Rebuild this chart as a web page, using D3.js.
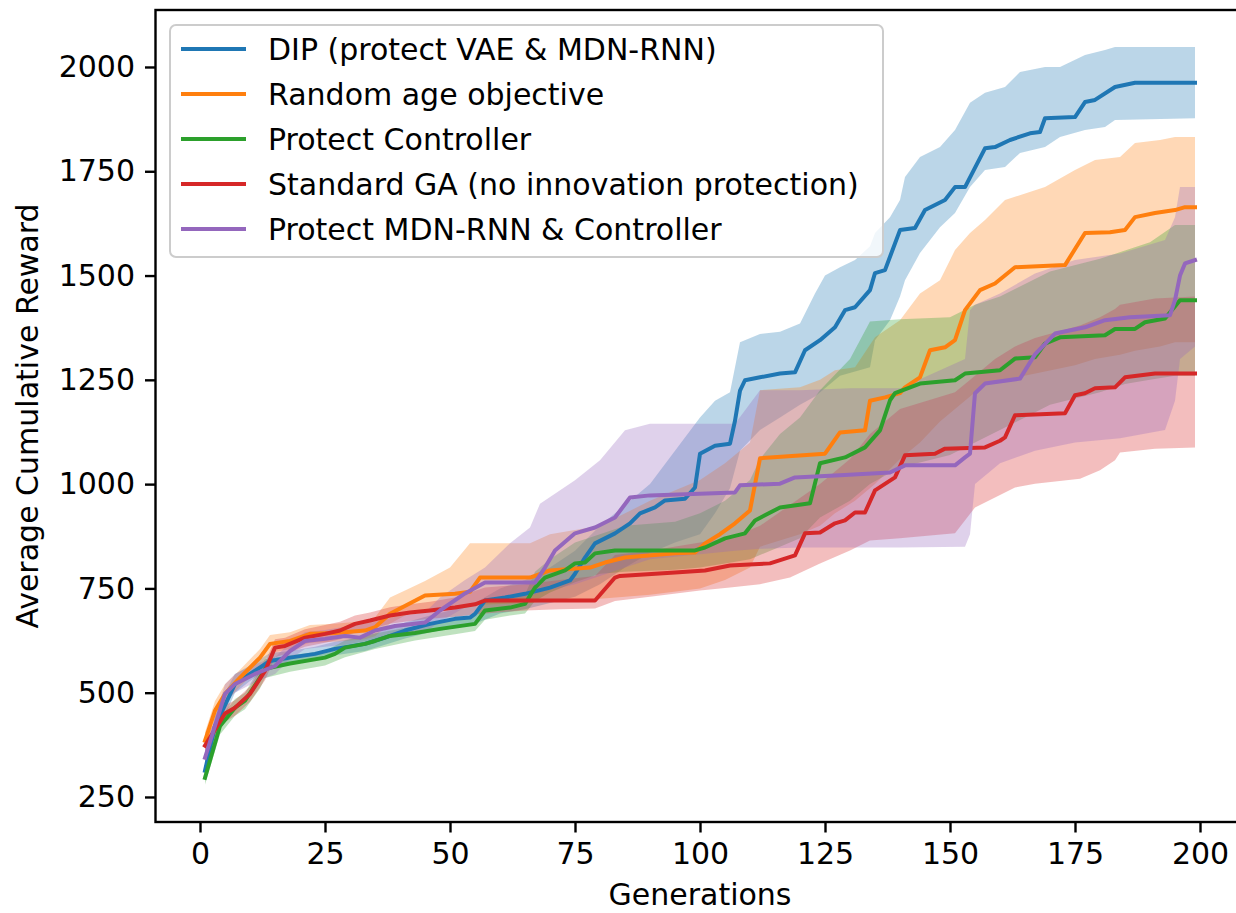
<!DOCTYPE html>
<html><head><meta charset="utf-8">
<script src="https://cdn.jsdelivr.net/npm/d3@7"></script>
<style>
body{margin:0;background:#fff}
svg{display:block}
text{font-family:"DejaVu Sans",sans-serif;fill:#000}
</style>
</head><body>
<svg id="chart" width="1236" height="913"></svg>
<script>
// ---- data ----
const xTicks = [0, 25, 50, 75, 100, 125, 150, 175, 200];
const yTicks = [250, 500, 750, 1000, 1250, 1500, 1750, 2000];
const seriesNames = ["DIP (protect VAE & MDN-RNN)", "Random age objective", "Protect Controller",
  "Standard GA (no innovation protection)", "Protect MDN-RNN & Controller"];
const seriesColors = ["#1f77b4", "#ff7f0e", "#2ca02c", "#d62728", "#9467bd"];

// mean curves: [generation, reward]
const dipMean = [[1,313],[3,420],[5,470],[7,521],[10,545],[14,576],[18,584],[23,593],[27,605],[33,617],[37,632],[41,649],[46,665],[51,677],[54,680],[55,689],[57,721],[61,728],[65,737],[70,752],[74,769],[75,785],[77,824],[79,858],[83,882],[86,906],[88,930],[91,944],[93,961],[97,965],[99,992],[100,1073],[103,1092],[106,1097],[107,1152],[108,1224],[109,1249],[112,1256],[116,1265],[119,1268],[121,1321],[124,1345],[127,1376],[129,1417],[131,1424],[134,1465],[135,1506],[137,1513],[140,1609],[143,1614],[145,1657],[149,1681],[151,1712],[153,1712],[157,1805],[159,1808],[162,1825],[166,1841],[168,1844],[169,1877],[175,1880],[177,1916],[179,1921],[183,1952],[187,1962],[199,1962]];
const randomMean = [[1,385],[3,457],[5,497],[8,536],[12,584],[14,617],[18,624],[22,641],[27,643],[33,649],[35,657],[38,689],[45,733],[51,737],[54,742],[56,776],[66,776],[70,793],[78,800],[81,812],[85,824],[95,834],[99,836],[101,858],[104,880],[107,906],[110,937],[112,1062],[114,1064],[125,1073],[128,1124],[133,1129],[134,1200],[137,1208],[140,1218],[141,1232],[144,1256],[146,1321],[149,1328],[151,1345],[153,1417],[156,1465],[159,1481],[163,1520],[173,1525],[177,1602],[182,1604],[185,1609],[187,1640],[191,1650],[195,1657],[197,1664],[199,1664]];
const ctrlMean = [[1,296],[4,420],[7,464],[9,481],[12,536],[13,557],[18,570],[25,584],[27,593],[29,608],[33,617],[35,624],[38,636],[43,643],[48,653],[55,665],[57,697],[62,704],[65,713],[67,752],[69,776],[73,793],[75,810],[77,812],[79,834],[83,841],[99,841],[101,848],[105,870],[109,882],[111,913],[116,944],[122,954],[124,1050],[129,1064],[133,1088],[136,1129],[138,1201],[139,1218],[144,1241],[151,1249],[153,1265],[160,1273],[163,1301],[167,1304],[169,1337],[172,1352],[181,1357],[183,1372],[187,1372],[189,1388],[193,1397],[196,1441],[199,1441]];
const gaMean = [[1,373],[5,450],[7,464],[10,497],[13,552],[15,608],[17,612],[21,632],[25,641],[28,649],[31,665],[34,673],[38,685],[42,692],[46,697],[51,704],[55,712],[57,721],[79,721],[83,776],[84,780],[95,788],[101,793],[106,805],[114,810],[119,829],[121,882],[124,884],[127,906],[129,913],[131,932],[133,932],[135,985],[139,1016],[141,1069],[147,1073],[149,1085],[157,1088],[160,1104],[161,1112],[163,1165],[173,1170],[175,1213],[177,1218],[179,1230],[183,1232],[185,1256],[191,1265],[199,1265]];
const mdnMean = [[1,344],[5,497],[7,521],[11,545],[15,564],[18,600],[21,624],[25,629],[29,636],[32,632],[35,649],[39,660],[45,668],[48,697],[53,738],[57,764],[67,764],[69,800],[71,841],[75,882],[79,896],[83,920],[86,968],[90,973],[107,980],[108,997],[116,1001],[119,1016],[128,1021],[138,1028],[141,1045],[151,1045],[153,1064],[154,1073],[155,1218],[157,1241],[164,1253],[167,1311],[171,1361],[177,1376],[181,1393],[186,1400],[194,1405],[195,1441],[196,1500],[197,1529],[199,1537]];

// spread bands: [generation, lower, upper]
const dipBand = [[1,295,335],[3,395,445],[5,445,500],[7,500,545],[10,528,565],[14,560,595],[18,570,600],[23,578,610],[27,590,622],[33,600,635],[37,615,650],[41,630,668],[46,645,685],[51,655,700],[55,665,715],[60,690,750],[65,700,770],[70,715,800],[75,730,840],[80,760,900],[85,800,950],[90,835,1000],[95,860,1080],[100,880,1160],[103,930,1200],[106,990,1220],[108,1080,1340],[112,1130,1360],[116,1160,1365],[120,1190,1385],[123,1210,1457],[125,1230,1500],[128,1260,1520],[131,1270,1537],[134,1280,1570],[135,1345,1602],[138,1393,1640],[140,1450,1681],[141,1489,1736],[144,1554,1784],[148,1616,1808],[151,1650,1849],[154,1712,1914],[157,1753,1938],[161,1760,1952],[164,1794,1988],[169,1808,2000],[172,1832,2000],[177,1849,2029],[181,1856,2041],[183,1873,2048],[199,1877,2048]];
const randomBand = [[1,365,405],[3,435,480],[5,475,520],[8,515,555],[12,560,605],[14,595,638],[18,605,645],[22,620,662],[27,622,665],[33,628,672],[35,635,680],[38,665,728],[41,685,745],[45,700,768],[50,705,800],[54,710,858],[66,715,858],[70,720,880],[80,725,900],[90,735,960],[100,750,1010],[105,770,1050],[110,800,1100],[112,850,1225],[120,880,1232],[124,900,1250],[127,930,1273],[131,960,1280],[135,1000,1352],[140,1060,1393],[144,1100,1457],[148,1150,1489],[151,1180,1561],[154,1210,1602],[157,1240,1633],[161,1250,1681],[169,1270,1712],[175,1285,1753],[179,1300,1777],[184,1310,1784],[187,1320,1818],[192,1330,1825],[195,1340,1832],[199,1340,1832]];
const ctrlBand = [[1,280,315],[4,400,440],[7,445,485],[9,460,500],[12,510,560],[13,535,580],[18,550,590],[25,565,600],[29,585,625],[35,605,642],[43,625,660],[51,640,678],[55,648,685],[57,675,720],[62,685,725],[65,690,735],[67,720,790],[70,740,820],[75,765,860],[80,785,880],[85,790,900],[95,795,910],[100,800,930],[105,810,960],[110,820,1010],[112,830,1060],[116,850,1120],[120,870,1160],[124,920,1225],[130,960,1300],[134,1000,1390],[140,1040,1395],[150,1070,1400],[155,1100,1430],[160,1130,1450],[165,1160,1480],[170,1190,1510],[180,1220,1540],[185,1240,1560],[190,1250,1580],[195,1260,1621],[199,1260,1621]];
const gaBand = [[1,355,390],[5,430,470],[7,445,482],[10,478,515],[13,530,572],[15,585,628],[17,592,632],[21,610,652],[25,620,662],[28,628,670],[31,645,685],[34,652,692],[38,665,705],[42,672,712],[46,677,718],[51,682,728],[57,690,752],[65,697,760],[72,700,770],[79,702,780],[83,720,830],[90,730,840],[100,745,860],[106,752,870],[112,760,900],[118,776,950],[124,810,1000],[130,841,1060],[134,865,1120],[140,870,1180],[151,882,1220],[155,944,1260],[159,968,1300],[163,992,1330],[167,1001,1350],[176,1013,1380],[180,1033,1400],[183,1057,1420],[184,1076,1430],[191,1085,1445],[199,1088,1450]];
const mdnBand = [[1,325,365],[5,475,520],[7,500,545],[11,525,568],[15,545,585],[18,580,620],[21,605,645],[25,610,650],[29,615,658],[35,628,670],[39,638,682],[45,645,692],[48,670,728],[53,705,770],[57,720,800],[62,725,858],[66,730,896],[68,740,953],[75,760,1009],[80,780,1057],[85,800,1129],[90,820,1145],[107,840,1145],[112,845,1225],[120,848,1225],[130,848,1230],[140,848,1230],[153,850,1300],[154,880,1417],[155,1000,1430],[160,1050,1457],[167,1080,1505],[175,1100,1537],[184,1110,1553],[193,1130,1585],[195,1200,1640],[196,1300,1712],[199,1330,1712]];

const means = [dipMean, randomMean, ctrlMean, gaMean, mdnMean];
const bands = [dipBand, randomBand, ctrlBand, gaBand, mdnBand];

// ---- layout ----
const svg = d3.select("#chart");
const L = 155.5, R = 1244.5, T = 10, B = 822;
const x = d3.scaleLinear().domain([-8.9, 208.9]).range([L, R]);
const y = d3.scaleLinear().domain([190, 2136.6]).range([B, T]);

svg.append("defs").append("clipPath").attr("id","clip")
  .append("rect").attr("x",L).attr("y",T).attr("width",R-L).attr("height",B-T);

const plot = svg.append("g").attr("clip-path","url(#clip)");
const area = d3.area().x(d=>x(d[0])).y0(d=>y(d[1])).y1(d=>y(d[2]));
const line = d3.line().x(d=>x(d[0])).y(d=>y(d[1]));

bands.forEach((b,i)=>{
  plot.append("path").attr("d", area(b)).attr("fill", seriesColors[i]).attr("fill-opacity",0.3).attr("stroke","none");
});
means.forEach((m,i)=>{
  plot.append("path").attr("d", line(m)).attr("fill","none").attr("stroke", seriesColors[i])
    .attr("stroke-width",4).attr("stroke-linejoin","round").attr("stroke-linecap","square");
});

// axes
const fs = 30;
const xAxis = svg.append("g").attr("transform",`translate(0,${B})`)
  .call(d3.axisBottom(x).tickValues(xTicks).tickFormat(d3.format("d")).tickSize(10.5).tickPadding(10));
const yAxis = svg.append("g").attr("transform",`translate(${L},0)`)
  .call(d3.axisLeft(y).tickValues(yTicks).tickFormat(d3.format("d")).tickSize(10.5).tickPadding(10));
[xAxis,yAxis].forEach(a=>{
  a.select(".domain").remove();
  a.selectAll(".tick line").attr("stroke","#000").attr("stroke-width",2.4);
  a.selectAll(".tick text").attr("font-size",fs).attr("font-family","DejaVu Sans").attr("fill","#000");
});

// spines
svg.append("rect").attr("x",L).attr("y",T).attr("width",R-L).attr("height",B-T)
  .attr("fill","none").attr("stroke","#000").attr("stroke-width",2.4);

// labels
svg.append("text").attr("x",(L+R)/2).attr("y",905).attr("text-anchor","middle").attr("font-size",fs).text("Generations");
svg.append("text").attr("transform",`translate(38,${(T+B)/2}) rotate(-90)`).attr("text-anchor","middle")
  .attr("font-size",fs).text("Average Cumulative Reward");

// legend
const lg = svg.append("g");
lg.append("rect").attr("x",170).attr("y",25).attr("width",713).attr("height",232).attr("rx",6)
  .attr("fill","#fff").attr("fill-opacity",0.8).attr("stroke","#cccccc").attr("stroke-width",2);
seriesNames.forEach((n,i)=>{
  const cy = 49 + i*45;
  lg.append("line").attr("x1",181).attr("x2",246).attr("y1",cy).attr("y2",cy)
    .attr("stroke",seriesColors[i]).attr("stroke-width",4);
  lg.append("text").attr("x",268).attr("y",cy+11).attr("font-size",fs).text(n);
});
</script>
</body></html>
